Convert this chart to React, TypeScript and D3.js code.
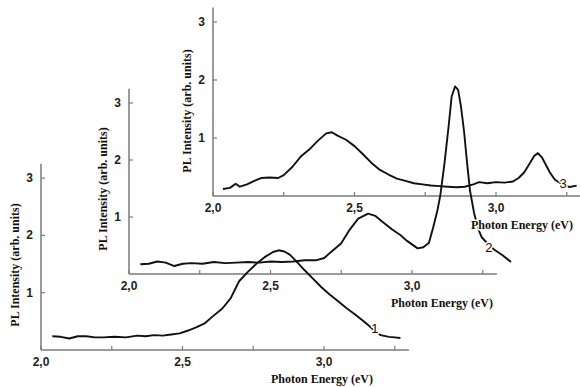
import React from 'react';
import * as d3 from 'd3';

// Curve 1 (bottom panel)
const energy1 = [2.04,2.07,2.10,2.13,2.16,2.19,2.22,2.26,2.30,2.34,2.37,2.40,2.43,2.46,2.49,2.52,2.55,2.58,2.61,2.64,2.67,2.70,2.73,2.76,2.79,2.82,2.84,2.86,2.88,2.90,2.93,2.96,2.99,3.02,3.05,3.08,3.11,3.14,3.16,3.18,3.20,3.23,3.25,3.27];
const intensity1 = [0.24,0.23,0.20,0.24,0.24,0.22,0.22,0.23,0.22,0.25,0.24,0.26,0.25,0.27,0.29,0.34,0.40,0.47,0.60,0.72,0.90,1.20,1.36,1.50,1.62,1.71,1.74,1.72,1.66,1.56,1.40,1.25,1.10,0.97,0.85,0.73,0.62,0.50,0.42,0.33,0.26,0.23,0.22,0.21];

// Curve 2 (middle panel)
const energy2 = [2.04,2.07,2.10,2.13,2.16,2.19,2.22,2.26,2.30,2.34,2.38,2.42,2.46,2.50,2.54,2.58,2.62,2.66,2.69,2.71,2.75,2.78,2.81,2.845,2.87,2.89,2.93,2.96,2.98,3.00,3.02,3.04,3.06,3.075,3.09,3.10,3.115,3.13,3.14,3.152,3.163,3.173,3.184,3.194,3.205,3.219,3.233,3.247,3.27,3.29,3.32,3.35];
const intensity2 = [0.17,0.18,0.22,0.20,0.14,0.18,0.19,0.18,0.21,0.19,0.20,0.21,0.20,0.22,0.21,0.22,0.24,0.24,0.28,0.37,0.54,0.78,0.97,1.06,1.02,0.94,0.78,0.68,0.59,0.52,0.45,0.47,0.55,0.82,1.12,1.38,1.95,2.62,3.11,3.29,3.23,2.94,2.50,1.98,1.46,1.08,0.80,0.64,0.52,0.43,0.33,0.21];

// Curve 3 (top panel)
const energy3 = [2.035,2.06,2.08,2.095,2.12,2.15,2.17,2.20,2.23,2.25,2.28,2.31,2.34,2.37,2.40,2.42,2.44,2.47,2.50,2.53,2.56,2.59,2.62,2.65,2.68,2.71,2.74,2.77,2.80,2.83,2.86,2.89,2.92,2.94,2.97,3.00,3.03,3.06,3.08,3.10,3.12,3.135,3.148,3.163,3.177,3.19,3.208,3.233,3.26,3.285];
const intensity3 = [0.12,0.14,0.21,0.16,0.20,0.27,0.31,0.32,0.31,0.36,0.50,0.68,0.80,0.95,1.08,1.10,1.04,0.97,0.86,0.72,0.57,0.45,0.37,0.30,0.26,0.22,0.20,0.18,0.17,0.16,0.15,0.16,0.20,0.24,0.22,0.24,0.23,0.25,0.31,0.41,0.57,0.69,0.74,0.66,0.53,0.41,0.28,0.21,0.155,0.18];

const curveNames = ['1', '2', '3'];
const curveLabelEnergy = [3.18, 3.272, 3.237];
const curveLabelIntensity = [0.37, 0.47, 0.22];

const xTickValues = [2.0, 2.25, 2.5, 2.75, 3.0, 3.25];
const xTickLabels = ['2,0', '', '2,5', '', '3,0', ''];
const yTickValues = [1, 2, 3];
const yTickLabels = ['1', '2', '3'];
const xTitle = 'Photon Energy (eV)';
const yTitle = 'PL Intensity (arb. units)';

// layout (positions of the three stacked panels)
const panels = [
  { ox: 41, oy: 350, pxPerUnit: 57.3, titleX: 322 },
  { ox: 129, oy: 274, pxPerUnit: 57, titleX: 442 },
  { ox: 213, oy: 196, pxPerUnit: 58, titleX: 522 },
];
const PX_PER_EV = 283;
const X_DOMAIN: [number, number] = [2.0, 3.3];
const Y_TOP = 3.25;

const energies = [energy1, energy2, energy3];
const intensities = [intensity1, intensity2, intensity3];

const SERIF = "'Liberation Serif', 'Times New Roman', serif";
const SANS = "'Liberation Sans', Arial, sans-serif";
const AXIS = '#7a7a7a';

export default function App() {
  const scales = panels.map((p) => ({
    x: d3.scaleLinear().domain(X_DOMAIN).range([p.ox, p.ox + (X_DOMAIN[1] - X_DOMAIN[0]) * PX_PER_EV]),
    y: d3.scaleLinear().domain([0, 1]).range([p.oy, p.oy - p.pxPerUnit]),
  }));

  const halo = { stroke: '#fff', strokeWidth: 3, paintOrder: 'stroke' as const, strokeLinejoin: 'round' as const };

  return (
    <svg width={580} height={387} style={{ position: 'absolute', left: 0, top: 0, background: '#fff' }}>
      <rect x={0} y={0} width={580} height={387} fill="#fff" />
      {/* axes */}
      {panels.map((p, i) => {
        const { x, y } = scales[i];
        return (
          <g key={'ax' + i}>
            <line x1={x(X_DOMAIN[0])} x2={x(X_DOMAIN[1])} y1={y(0)} y2={y(0)} stroke={AXIS} strokeWidth={1.5} />
            <line x1={x(X_DOMAIN[0])} x2={x(X_DOMAIN[0])} y1={y(0)} y2={y(Y_TOP)} stroke={AXIS} strokeWidth={1.5} />
            {xTickValues.map((t) => (
              <line key={'xt' + t} x1={x(t)} x2={x(t)} y1={y(0)} y2={y(0) - 4} stroke={AXIS} strokeWidth={1.2} />
            ))}
            {yTickValues.map((t) => (
              <line key={'yt' + t} x1={x(X_DOMAIN[0])} x2={x(X_DOMAIN[0]) + 4} y1={y(t)} y2={y(t)} stroke={AXIS} strokeWidth={1.2} />
            ))}
          </g>
        );
      })}
      {/* curves */}
      {panels.map((p, i) => {
        const { x, y } = scales[i];
        const pts = energies[i].map((e, k) => [e, intensities[i][k]] as [number, number]);
        const path = d3.line<[number, number]>().x((d) => x(d[0])).y((d) => y(d[1])).curve(d3.curveLinear)(pts) || '';
        return <path key={'c' + i} d={path} fill="none" stroke="#111" strokeWidth={1.9} strokeLinejoin="round" />;
      })}
      {/* texts */}
      {panels.map((p, i) => {
        const { x, y } = scales[i];
        const x0 = x(X_DOMAIN[0]);
        const cy = p.oy - 85;
        return (
          <g key={'tx' + i}>
            {xTickValues.map((t, k) =>
              xTickLabels[k] ? (
                <text key={'xl' + k} x={x(t)} y={y(0) + 16} textAnchor="middle" fontFamily={SANS} fontWeight="bold" fontSize={12} fill="#222" {...halo}>
                  {xTickLabels[k]}
                </text>
              ) : null
            )}
            {yTickValues.map((t, k) => (
              <text key={'yl' + k} x={x0 - 8} y={y(t) + 4} textAnchor="end" fontFamily={SANS} fontWeight="bold" fontSize={12} fill="#222" {...halo}>
                {yTickLabels[k]}
              </text>
            ))}
            <text x={p.titleX} y={y(0) + 33} textAnchor="middle" fontFamily={SERIF} fontWeight="bold" fontSize={12} fill="#111" {...halo}>
              {xTitle}
            </text>
            <text transform={`translate(${x0 - 26},${cy}) rotate(-90)`} textAnchor="middle" dominantBaseline="central" fontFamily={SERIF} fontWeight="bold" fontSize={12} fill="#111" {...halo}>
              {yTitle}
            </text>
            <text x={x(curveLabelEnergy[i])} y={y(curveLabelIntensity[i])} textAnchor="middle" dominantBaseline="central" fontFamily={SANS} fontSize={13} fill="#111" {...halo}>
              {curveNames[i]}
            </text>
          </g>
        );
      })}
    </svg>
  );
}
